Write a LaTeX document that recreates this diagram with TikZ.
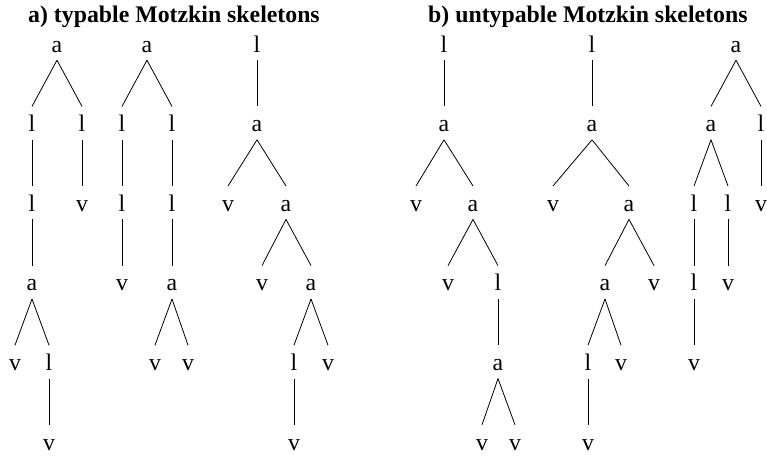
\documentclass[tikz,border=0pt]{standalone}
\usepackage{fontspec}
\setmainfont{Liberation Serif}
\begin{document}
\begin{tikzpicture}[x=1pt,y=-1pt,
  nd/.style={anchor=base, text height=17pt, text depth=0pt, inner xsep=2pt, inner ysep=8pt, font=\fontsize{23.8}{28}\selectfont},
  ttl/.style={anchor=base west, inner sep=0pt, font=\fontsize{23.8}{28}\selectfont\bfseries},
  edge/.style={line width=0.8pt}]
\useasboundingbox (0,0) rectangle (767,456);
\def\ra{52}\def\rb{131.6}\def\rc{211.2}\def\rd{290.8}\def\re{370.4}\def\rf{450}
\node[ttl] (ta) at (28,22.5) {a) typable Motzkin skeletons};
\node[ttl] (tb) at (428,22.5) {b) untypable Motzkin skeletons};
% Tree A1
\node[nd] (A) at (57,\ra) {a};
\node[nd] (Al) at (32,\rb) {l};
\node[nd] (Ar) at (82,\rb) {l};
\node[nd] (All) at (32,\rc) {l};
\node[nd] (Arv) at (82,\rc) {v};
\node[nd] (Alla) at (32,\rd) {a};
\node[nd] (Av) at (15,\re) {v};
\node[nd] (Al5) at (49,\re) {l};
\node[nd] (Av6) at (49,\rf) {v};
\draw[edge] (A.south) -- (Al.north);
\draw[edge] (A.south) -- (Ar.north);
\draw[edge] (Al.south) -- (All.north);
\draw[edge] (Ar.south) -- (Arv.north);
\draw[edge] (All.south) -- (Alla.north);
\draw[edge] (Alla.south) -- (Av.north);
\draw[edge] (Alla.south) -- (Al5.north);
\draw[edge] (Al5.south) -- (Av6.north);
% Tree A2
\node[nd] (B) at (147,\ra) {a};
\node[nd] (Bl) at (122,\rb) {l};
\node[nd] (Br) at (172,\rb) {l};
\node[nd] (Bll) at (122,\rc) {l};
\node[nd] (Brl) at (172,\rc) {l};
\node[nd] (Bllv) at (122,\rd) {v};
\node[nd] (Brla) at (172,\rd) {a};
\node[nd] (Bv1) at (155,\re) {v};
\node[nd] (Bv2) at (188,\re) {v};
\draw[edge] (B.south) -- (Bl.north);
\draw[edge] (B.south) -- (Br.north);
\draw[edge] (Bl.south) -- (Bll.north);
\draw[edge] (Br.south) -- (Brl.north);
\draw[edge] (Bll.south) -- (Bllv.north);
\draw[edge] (Brl.south) -- (Brla.north);
\draw[edge] (Brla.south) -- (Bv1.north);
\draw[edge] (Brla.south) -- (Bv2.north);
% Tree A3
\node[nd] (C) at (257,\ra) {l};
\node[nd] (Ca) at (257,\rb) {a};
\node[nd] (Cv) at (228,\rc) {v};
\node[nd] (Cb) at (286,\rc) {a};
\node[nd] (Cbv) at (262,\rd) {v};
\node[nd] (Cc) at (311,\rd) {a};
\node[nd] (Ccl) at (294,\re) {l};
\node[nd] (Ccv) at (328,\re) {v};
\node[nd] (Cclv) at (294,\rf) {v};
\draw[edge] (C.south) -- (Ca.north);
\draw[edge] (Ca.south) -- (Cv.north);
\draw[edge] (Ca.south) -- (Cb.north);
\draw[edge] (Cb.south) -- (Cbv.north);
\draw[edge] (Cb.south) -- (Cc.north);
\draw[edge] (Cc.south) -- (Ccl.north);
\draw[edge] (Cc.south) -- (Ccv.north);
\draw[edge] (Ccl.south) -- (Cclv.north);
% Tree B1
\node[nd] (D) at (444,\ra) {l};
\node[nd] (Da) at (444,\rb) {a};
\node[nd] (Dv) at (416,\rc) {v};
\node[nd] (Db) at (473,\rc) {a};
\node[nd] (Dbv) at (448,\rd) {v};
\node[nd] (Dbl) at (498,\rd) {l};
\node[nd] (Dc) at (498,\re) {a};
\node[nd] (Dcv1) at (482,\rf) {v};
\node[nd] (Dcv2) at (515,\rf) {v};
\draw[edge] (D.south) -- (Da.north);
\draw[edge] (Da.south) -- (Dv.north);
\draw[edge] (Da.south) -- (Db.north);
\draw[edge] (Db.south) -- (Dbv.north);
\draw[edge] (Db.south) -- (Dbl.north);
\draw[edge] (Dbl.south) -- (Dc.north);
\draw[edge] (Dc.south) -- (Dcv1.north);
\draw[edge] (Dc.south) -- (Dcv2.north);
% Tree B2
\node[nd] (E) at (592,\ra) {l};
\node[nd] (Ea) at (592,\rb) {a};
\node[nd] (Ev) at (553,\rc) {v};
\node[nd] (Eb) at (629,\rc) {a};
\node[nd] (Ec) at (605,\rd) {a};
\node[nd] (Ebv) at (654,\rd) {v};
\node[nd] (Ecl) at (588,\re) {l};
\node[nd] (Ecv) at (621,\re) {v};
\node[nd] (Eclv) at (588,\rf) {v};
\draw[edge] (E.south) -- (Ea.north);
\draw[edge] (Ea.south) -- (Ev.north);
\draw[edge] (Ea.south) -- (Eb.north);
\draw[edge] (Eb.south) -- (Ec.north);
\draw[edge] (Eb.south) -- (Ebv.north);
\draw[edge] (Ec.south) -- (Ecl.north);
\draw[edge] (Ec.south) -- (Ecv.north);
\draw[edge] (Ecl.south) -- (Eclv.north);
% Tree B3
\node[nd] (F) at (736,\ra) {a};
\node[nd] (Fa) at (711,\rb) {a};
\node[nd] (Fl) at (761,\rb) {l};
\node[nd] (Fal1) at (694,\rc) {l};
\node[nd] (Fal2) at (728,\rc) {l};
\node[nd] (Flv) at (761,\rc) {v};
\node[nd] (Fl1l) at (694,\rd) {l};
\node[nd] (Fl2v) at (728,\rd) {v};
\node[nd] (Fl1lv) at (694,\re) {v};
\draw[edge] (F.south) -- (Fa.north);
\draw[edge] (F.south) -- (Fl.north);
\draw[edge] (Fa.south) -- (Fal1.north);
\draw[edge] (Fa.south) -- (Fal2.north);
\draw[edge] (Fl.south) -- (Flv.north);
\draw[edge] (Fal1.south) -- (Fl1l.north);
\draw[edge] (Fal2.south) -- (Fl2v.north);
\draw[edge] (Fl1l.south) -- (Fl1lv.north);
\end{tikzpicture}
\end{document}
